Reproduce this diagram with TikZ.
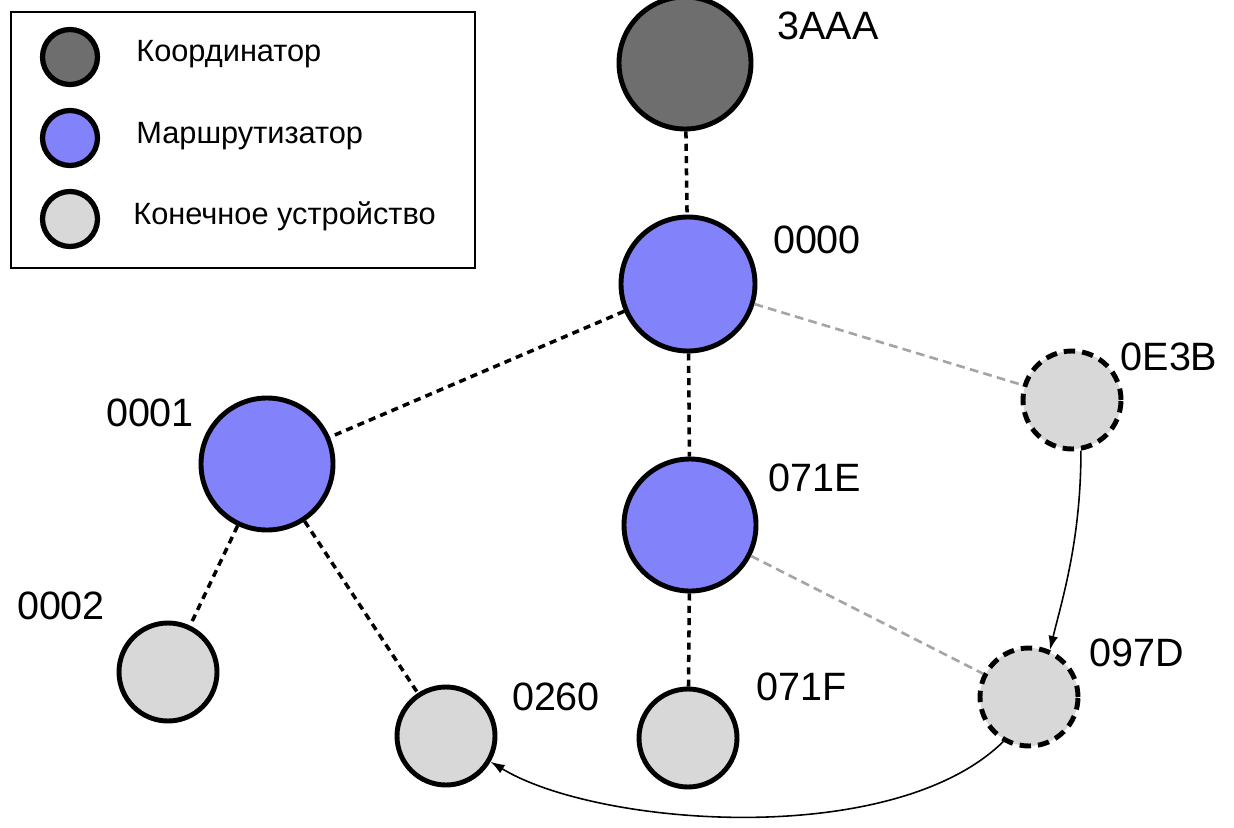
\documentclass[tikz,border=0pt]{standalone}
\usepackage{fontspec}
\setmainfont{Liberation Sans}
\usetikzlibrary{arrows.meta}
\usetikzlibrary{calc}

\definecolor{coordgray}{RGB}{110,110,110}
\definecolor{routerblue}{RGB}{130,130,250}
\definecolor{endgray}{RGB}{216,216,216}
\definecolor{linkgray}{RGB}{165,165,165}

\begin{document}
\begin{tikzpicture}[x=0.2mm,y=-0.2mm,inner sep=0pt,>={Latex[length=8pt,width=5.5pt]},
  dev/.style={draw,circle,line width=2.8pt},
  coordnode/.style={dev,fill=coordgray,minimum size=2.64cm},
  routernode/.style={dev,fill=routerblue,minimum size=2.64cm},
  endnode/.style={dev,fill=endgray,minimum size=1.96cm},
  lostnode/.style={endnode,dash pattern=on 6.5pt off 4pt},
  keynode/.style={dev,line width=3pt,minimum size=1.1cm},
  lbl/.style={font=\fontsize{22.5}{26}\selectfont},
  keylbl/.style={font=\fontsize{17.5}{21}\selectfont,anchor=west},
  link/.style={line width=2pt,dash pattern=on 4pt off 3pt},
  weaklink/.style={line width=1.5pt,linkgray,dash pattern=on 5pt off 3pt},
  move/.style={->,line width=0.9pt}]
\useasboundingbox (0,0) rectangle (1234,828);

% legend
\draw [line width=1.1pt] (11,12) rectangle (475,268);
\node [keynode,fill=coordgray]  (K1) at (70,57)  {};
\node [keynode,fill=routerblue] (K2) at (70,138) {};
\node [keynode,fill=endgray]    (K3) at (70,219) {};
\node [keylbl] (T1) at (136,54)  {Координатор};
\node [keylbl] (T2) at (136,136) {Маршрутизатор};
\node [keylbl] (T3) at (133,216) {Конечное устройство};

% network
\node [coordnode] (C3AAA) at (685,63) {};
\node [routernode,minimum size=2.68cm] (R0000) at (688,284) {};
\node [routernode] (R0001) at (267,464) {};
\node [routernode] (R071E) at (690,525) {};
\node [lostnode] (E0E3B) at (1072,400) {};
\node [lostnode] (E097D) at (1029,697) {};
\node [endnode]  (E0002) at (168,672) {};
\node [endnode]  (E0260) at (446,736) {};
\node [endnode]  (E071F) at (688,738) {};

\node [lbl] (L3AAA) at (828,26)  {3AAA};
\node [lbl] (L0000) at (817,240) {0000};
\node [lbl] (L0001) at (150,413) {0001};
\node [lbl] (L071E) at (815,478) {071E};
\node [lbl] (L0E3B) at (1169,357) {0E3B};
\node [lbl] (L097D) at (1137,653) {097D};
\node [lbl] (L0002) at (61,606)  {0002};
\node [lbl] (L0260) at (556,697) {0260};
\node [lbl] (L071F) at (802,687) {071F};

\draw [link] (C3AAA) -- (R0000);
\draw [link] (R0000) -- (R0001);
\draw [link] (R0000) -- (R071E);
\draw [link] (R071E) -- (E071F);
\draw [link] (R0001) -- (E0002);
\draw [link] (R0001) -- (E0260);
\draw [weaklink] (R0000) -- (E0E3B);
\draw [weaklink] (R071E) -- (E097D);

\draw [move] (E0E3B.-80) .. controls ($ (E0E3B.-80) + (0,90) $) and ($ (E097D.66) + (12,-50) $) .. (E097D.66);
\draw [move] (E097D.240) .. controls ($ (E097D.240) + (-110,108) $) and ($ (E0260.-30) + (107,65) $) .. (E0260.-30);
\end{tikzpicture}
\end{document}
